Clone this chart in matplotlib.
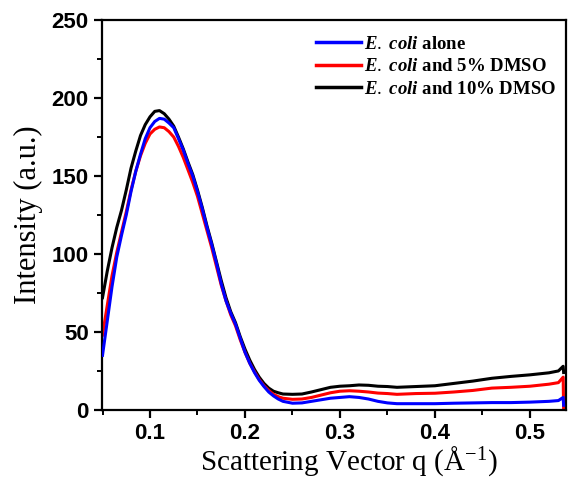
import matplotlib.pyplot as plt
from matplotlib.ticker import MultipleLocator

# Scattering vector q (1/Angstrom)
q = [0.050, 0.055, 0.060, 0.065, 0.070, 0.075, 0.080, 0.085, 0.090, 0.095,
     0.100, 0.105, 0.110, 0.115, 0.120, 0.125, 0.130, 0.135, 0.140, 0.145,
     0.150, 0.155, 0.160, 0.165, 0.170, 0.175, 0.180, 0.185, 0.190, 0.195,
     0.200, 0.205, 0.210, 0.215, 0.220, 0.225, 0.230, 0.235, 0.240, 0.250,
     0.260, 0.270, 0.280, 0.290, 0.300, 0.310, 0.320, 0.330, 0.340, 0.350,
     0.360, 0.380, 0.400, 0.420, 0.440, 0.460, 0.480, 0.500, 0.520, 0.530,
     0.535, 0.5355]

ecoli_alone = [35, 57, 79, 98, 112, 125, 140, 153, 164, 174,
               181, 185, 187, 186.5, 184, 181, 174, 166.7, 158, 150,
               140, 129, 117, 106, 94, 81, 70, 62, 55, 46,
               37, 30, 24, 19, 15, 11.5, 9, 7, 5.5, 4.3,
               4.5, 5.5, 6.5, 7.5, 8, 8.5, 8, 7, 5.5, 4.5,
               4, 4, 4, 4.3, 4.5, 4.7, 4.7, 5, 5.5, 6,
               8, 3]

ecoli_5 = [48, 67, 86, 101, 114, 127, 141, 153, 163, 171,
           177, 180, 181.5, 181, 178.5, 175, 169, 162, 154, 146,
           137, 126, 115, 104, 92, 80, 70, 61, 54, 45,
           37, 30, 24.5, 19.5, 15.5, 12.5, 10, 8.5, 7.5, 6.8,
           7, 8, 9.5, 11, 12, 12.3, 12, 11.5, 10.8, 10.5,
           10, 10.5, 10.7, 11.5, 12.5, 14, 14.5, 15.2, 16.5, 17.5,
           21, 0]

ecoli_10 = [72, 89, 104, 117, 128, 141, 155, 166, 176, 183,
            188, 191.5, 192, 190, 186.5, 182, 175, 167.5, 159, 151,
            141, 130, 118, 107, 95, 83, 72, 63, 56, 47,
            39, 32, 26, 21, 17, 14, 12, 11, 10.2, 10,
            10.2, 11.5, 13, 14.5, 15.2, 15.5, 16, 15.8, 15.2, 15,
            14.5, 15, 15.5, 17, 18.5, 20.3, 21.5, 22.5, 23.8, 25,
            28, 24]

labels = [r'$E.$ $coli$ alone', r'$E.$ $coli$ and 5% DMSO', r'$E.$ $coli$ and 10% DMSO']

plt.rcParams['mathtext.fontset'] = 'custom'
plt.rcParams['mathtext.rm'] = 'Liberation Serif'
plt.rcParams['mathtext.it'] = 'Liberation Serif:italic:bold'

fig = plt.figure(figsize=(5.7, 4.8), dpi=100)
ax = fig.add_axes([0.179, 0.146, 0.814, 0.812])

ax.plot(q, ecoli_alone, color='#0000ff', lw=2.2, label=labels[0], zorder=3)
ax.plot(q, ecoli_5, color='#ff0000', lw=2.2, label=labels[1], zorder=2)
ax.plot(q, ecoli_10, color='black', lw=2.2, label=labels[2], zorder=1)

ax.set_xlim(0.0495, 0.538)
ax.set_ylim(0, 250)
ax.xaxis.set_minor_locator(MultipleLocator(0.05))
ax.yaxis.set_major_locator(MultipleLocator(50))
ax.yaxis.set_minor_locator(MultipleLocator(25))
ax.set_xticks([0.1, 0.2, 0.3, 0.4, 0.5])
ax.set_xticklabels(['0.1', '0.2', '0.3', '0.4', '0.5'])

for s in ax.spines.values():
    s.set_linewidth(1.6)
ax.tick_params(which='major', direction='out', length=6, width=1.6)
ax.tick_params(which='minor', direction='out', length=3.5, width=1.4)
ax.tick_params(top=False, right=False, which='both')
for t in ax.get_xticklabels() + ax.get_yticklabels():
    t.set_family('Liberation Sans')
    t.set_fontweight('bold')
    t.set_fontsize(16)

ax.set_xlabel('Scattering Vector q (Å$^{\\mathrm{-1}}$)', family='Liberation Serif',
              fontsize=21)
ax.xaxis.set_label_coords(0.532, -0.088, transform=ax.transAxes)
ax.set_ylabel('Intensity (a.u.)', family='Liberation Serif', fontsize=22, labelpad=6)

leg = ax.legend(loc='upper right', bbox_to_anchor=(1.0, 0.985), frameon=False,
                prop={'family': 'Liberation Serif', 'weight': 'bold', 'size': 13.5},
                handlelength=2.4, handletextpad=0.2, labelspacing=0.3,
                borderaxespad=0.1)
for line in leg.get_lines():
    line.set_linewidth(2.5)

fig.savefig('out.png', dpi=100)
